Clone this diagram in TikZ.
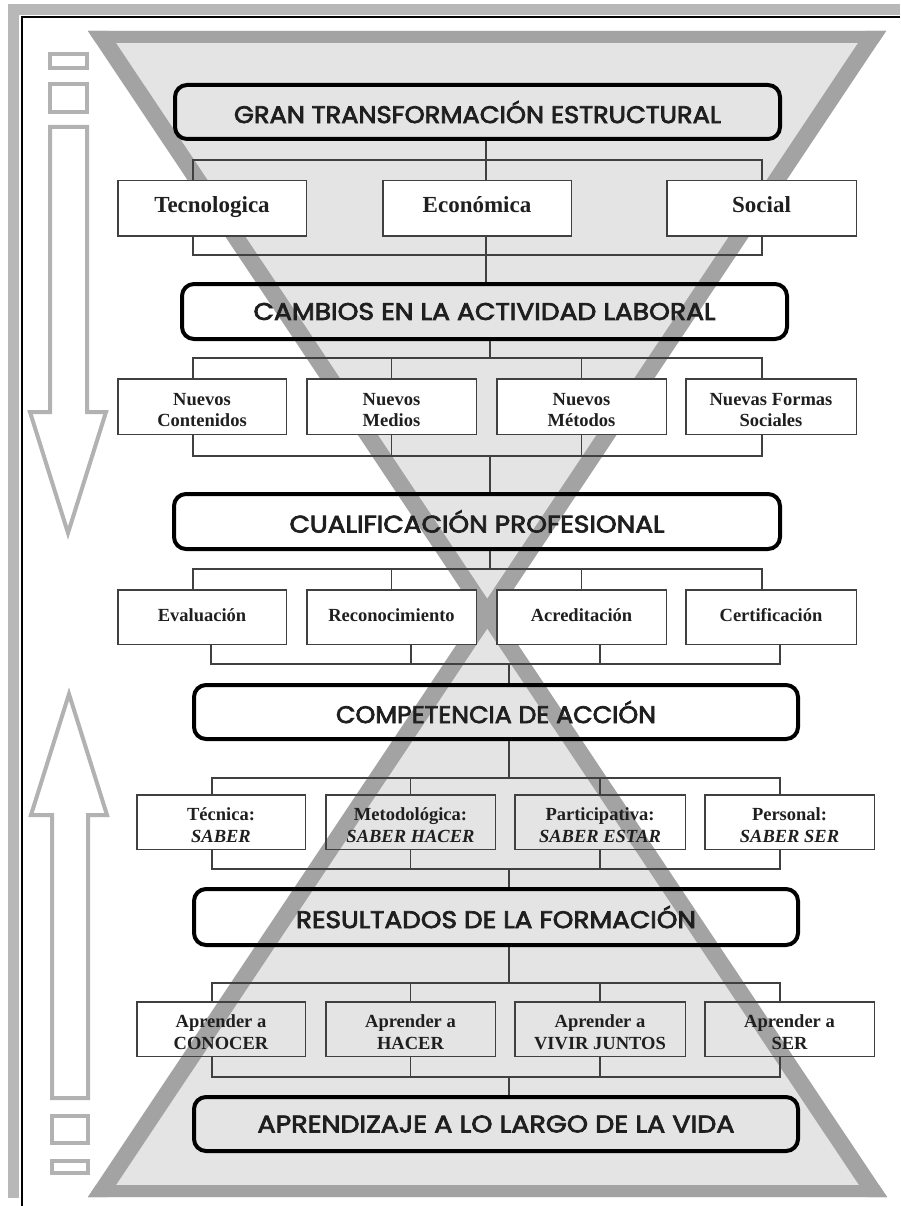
\documentclass[tikz,border=0pt]{standalone}
\usepackage{fontspec}
\usepackage{graphicx}
\setmainfont{Liberation Serif}
\newfontfamily\comicf{Poppins}[FakeBold=3]
\definecolor{bandgray}{gray}{0.64}
\definecolor{lightfill}{gray}{0.895}
\definecolor{arrowgray}{gray}{0.70}
\definecolor{linegray}{gray}{0.25}
\definecolor{stripgray}{gray}{0.72}
\definecolor{txt}{gray}{0.12}
\newcommand{\hdrt}[2]{\resizebox{#1}{\height}{#2}}
\tikzset{
  hdr/.style={draw=black, line width=4pt, rounded corners=12pt, inner sep=0pt,
    text=txt, font=\comicf\fontsize{24}{28}\selectfont},
  sbox/.style={draw=linegray, line width=1.5pt, fill=white, inner sep=0pt, align=center,
    text=txt, font=\bfseries\fontsize{18.5}{21.5}\selectfont, text height=40pt, text depth=0pt},
  obox/.style={sbox, fill=none},
  onebox/.style={sbox, text height=13pt, text depth=5pt},
  bigbox/.style={sbox, font=\bfseries\fontsize{23}{26}\selectfont, text height=16pt, text depth=7pt},
  conn/.style={draw=linegray, line width=1.5pt},
  arr/.style={draw=arrowgray, line width=4pt, line join=miter}
}
\begin{document}
\begin{tikzpicture}[x=1pt,y=-1pt]
\useasboundingbox (0,0) rectangle (900,1206);
\fill[white] (0,0) rectangle (900,1206);
% frame
\fill[stripgray] (8,4) rectangle (900,15);
\fill[stripgray] (8,4) rectangle (19,1198);
\draw[line width=2pt] (22,1206) -- (22,17) -- (900,17);
% side arrows
\draw[arr] (50,54) rectangle (87,68);
\draw[arr] (50,84) rectangle (87,112);
\draw[arr] (50,127) -- (87,127) -- (87,412) -- (106,412) -- (68,533) -- (30,412) -- (50,412) -- cycle;
\draw[arr] (52,1098) -- (88,1098) -- (88,815) -- (107,815) -- (69,694) -- (31,815) -- (52,815) -- cycle;
\draw[arr] (52,1116) rectangle (88,1143);
\draw[arr] (52,1161) rectangle (88,1173);
% hourglass
\fill[lightfill] (88,31) -- (886,31) -- (487.4,628.6) -- cycle;
\fill[lightfill] (88,1197) -- (887,1197) -- (487,598.7) -- cycle;
\fill[bandgray] (88,31) -- (108,31) -- (887,1197) -- (867,1197) -- cycle;
\fill[bandgray] (866,31) -- (886,31) -- (108,1197) -- (88,1197) -- cycle;
\fill[bandgray] (88,31) -- (886,31) -- (878,43) -- (96,43) -- cycle;
\fill[bandgray] (88,1197) -- (887,1197) -- (879,1185) -- (96,1185) -- cycle;
% headers
\node[hdr, minimum width=605pt, minimum height=54pt] (h1) at (477.5,112) {\hdrt{487pt}{GRAN TRANSFORMACIÓN ESTRUCTURAL}};
\node[hdr, minimum width=605pt, minimum height=55pt] (h2) at (484.5,311.5) {\hdrt{462pt}{CAMBIOS EN LA ACTIVIDAD LABORAL}};
\node[hdr, minimum width=606pt, minimum height=55pt] (h3) at (477,521.5) {\hdrt{375pt}{CUALIFICACIÓN PROFESIONAL}};
\node[hdr, minimum width=604pt, minimum height=54pt] (h4) at (496,712) {\hdrt{320pt}{COMPETENCIA DE ACCIÓN}};
\node[hdr, minimum width=604pt, minimum height=56pt] (h5) at (496,917) {\hdrt{400pt}{RESULTADOS DE LA FORMACIÓN}};
\node[hdr, minimum width=604pt, minimum height=54pt] (h6) at (496,1124) {\hdrt{477pt}{APRENDIZAJE A LO LARGO DE LA VIDA}};
% row 1
\node[bigbox, minimum width=188.5pt, minimum height=55.5pt] (tec) at (212,208.5) {Tecnologica};
\node[bigbox, minimum width=188.5pt, minimum height=55.5pt] (eco) at (477,208.5) {Económica};
\node[bigbox, minimum width=189.5pt, minimum height=55.5pt] (soc) at (761.5,208.5) {Social};
% row 2
\node[sbox, minimum width=168.5pt, minimum height=55.5pt] (nc) at (202,406.5) {Nuevos\\Contenidos};
\node[sbox, minimum width=169.5pt, minimum height=55.5pt] (nm) at (391.5,406.5) {Nuevos\\Medios};
\node[sbox, minimum width=169.5pt, minimum height=55.5pt] (nme) at (581.5,406.5) {Nuevos\\Métodos};
\node[sbox, minimum width=170.5pt, minimum height=55.5pt] (nf) at (771,406.5) {Nuevas Formas\\Sociales};
% row 3
\node[onebox, minimum width=168.5pt, minimum height=54.5pt] (ev) at (202,617) {Evaluación};
\node[onebox, minimum width=169.5pt, minimum height=54.5pt] (rec) at (391.5,617) {Reconocimiento};
\node[onebox, minimum width=169.5pt, minimum height=54.5pt] (acr) at (581.5,617) {Acreditación};
\node[onebox, minimum width=170.5pt, minimum height=54.5pt] (cer) at (771,617) {Certificación};
% row 4
\node[obox, minimum width=168.5pt, minimum height=54.5pt] (te) at (221,822) {Técnica:\\\textit{SABER}};
\node[obox, minimum width=169.5pt, minimum height=54.5pt] (me) at (410.5,822) {Metodológica:\\\textit{SABER HACER}};
\node[obox, minimum width=170.5pt, minimum height=54.5pt] (pa) at (600,822) {Participativa:\\\textit{SABER ESTAR}};
\node[obox, minimum width=169.5pt, minimum height=54.5pt] (pe) at (789.5,822) {Personal:\\\textit{SABER SER}};
% row 5
\node[obox, minimum width=168.5pt, minimum height=54.5pt] (ap1) at (221,1029) {Aprender a\\CONOCER};
\node[obox, minimum width=169.5pt, minimum height=54.5pt] (ap2) at (410.5,1029) {Aprender a\\HACER};
\node[obox, minimum width=170.5pt, minimum height=54.5pt] (ap3) at (600,1029) {Aprender a\\VIVIR JUNTOS};
\node[obox, minimum width=169.5pt, minimum height=54.5pt] (ap4) at (789.5,1029) {Aprender a\\SER};
% connectors row 1
\coordinate (r1a) at (193,160); \coordinate (r1b) at (762,160);
\coordinate (r1c) at (193,255); \coordinate (r1d) at (762,255);
\coordinate (r1m) at (486,160);
\draw[conn] (tec.north -| r1a) -- (r1a) -- (r1b) -- (soc.north -| r1b);
\draw[conn] (tec.south -| r1c) -- (r1c) -- (r1d) -- (soc.south -| r1d);
\draw[conn] (h1.south -| r1m) -- (eco.north -| r1m);
\draw[conn] (eco.south -| r1m) -- (h2.north -| r1m);
% row 2
\coordinate (r2a) at (193,358); \coordinate (r2b) at (762,358);
\coordinate (r2c) at (193,456); \coordinate (r2d) at (762,456);
\coordinate (r2m) at (490,358); \coordinate (r2n) at (490,456);
\draw[conn] (nc.north -| r2a) -- (r2a) -- (r2b) -- (nf.north -| r2b);
\draw[conn] (nc.south -| r2c) -- (r2c) -- (r2d) -- (nf.south -| r2d);
\draw[conn] (nm.north) -- (nm.north |- r2a);
\draw[conn] (nme.north) -- (nme.north |- r2a);
\draw[conn] (nm.south) -- (nm.south |- r2c);
\draw[conn] (nme.south) -- (nme.south |- r2c);
\draw[conn] (h2.south -| r2m) -- (r2m);
\draw[conn] (r2n) -- (h3.north -| r2n);
% row 3
\coordinate (r3a) at (193,569); \coordinate (r3b) at (762,569);
\coordinate (r3c) at (211,664); \coordinate (r3d) at (780,664);
\coordinate (r3e) at (411,664); \coordinate (r3f) at (600,664);
\coordinate (r3m) at (490,569); \coordinate (r3n) at (509,664);
\draw[conn] (ev.north -| r3a) -- (r3a) -- (r3b) -- (cer.north -| r3b);
\draw[conn] (rec.north) -- (rec.north |- r3a);
\draw[conn] (acr.north) -- (acr.north |- r3a);
\draw[conn] (ev.south -| r3c) -- (r3c) -- (r3d) -- (cer.south -| r3d);
\draw[conn] (rec.south -| r3e) -- (r3e);
\draw[conn] (acr.south -| r3f) -- (r3f);
\draw[conn] (h3.south -| r3m) -- (r3m);
\draw[conn] (r3n) -- (h4.north -| r3n);
% row 4
\coordinate (r4a) at (212,778); \coordinate (r4b) at (780,778);
\coordinate (r4c) at (212,869); \coordinate (r4d) at (780,869);
\coordinate (r4m) at (509,778); \coordinate (r4n) at (509,869);
\draw[conn] (te.north -| r4a) -- (r4a) -- (r4b) -- (pe.north -| r4b);
\draw[conn] (te.south -| r4c) -- (r4c) -- (r4d) -- (pe.south -| r4d);
\draw[conn] (me.north) -- (me.north |- r4a);
\draw[conn] (pa.north) -- (pa.north |- r4a);
\draw[conn] (me.south) -- (me.south |- r4c);
\draw[conn] (pa.south) -- (pa.south |- r4c);
\draw[conn] (h4.south -| r4m) -- (r4m);
\draw[conn] (r4n) -- (h5.north -| r4n);
% row 5
\coordinate (r5a) at (212,983); \coordinate (r5b) at (780,983);
\coordinate (r5c) at (212,1077); \coordinate (r5d) at (780,1077);
\coordinate (r5m) at (509,983); \coordinate (r5n) at (509,1077);
\draw[conn] (ap1.north -| r5a) -- (r5a) -- (r5b) -- (ap4.north -| r5b);
\draw[conn] (ap1.south -| r5c) -- (r5c) -- (r5d) -- (ap4.south -| r5d);
\draw[conn] (ap2.north) -- (ap2.north |- r5a);
\draw[conn] (ap3.north) -- (ap3.north |- r5a);
\draw[conn] (ap2.south) -- (ap2.south |- r5c);
\draw[conn] (ap3.south) -- (ap3.south |- r5c);
\draw[conn] (h5.south -| r5m) -- (r5m);
\draw[conn] (r5n) -- (h6.north -| r5n);
\end{tikzpicture}
\end{document}
